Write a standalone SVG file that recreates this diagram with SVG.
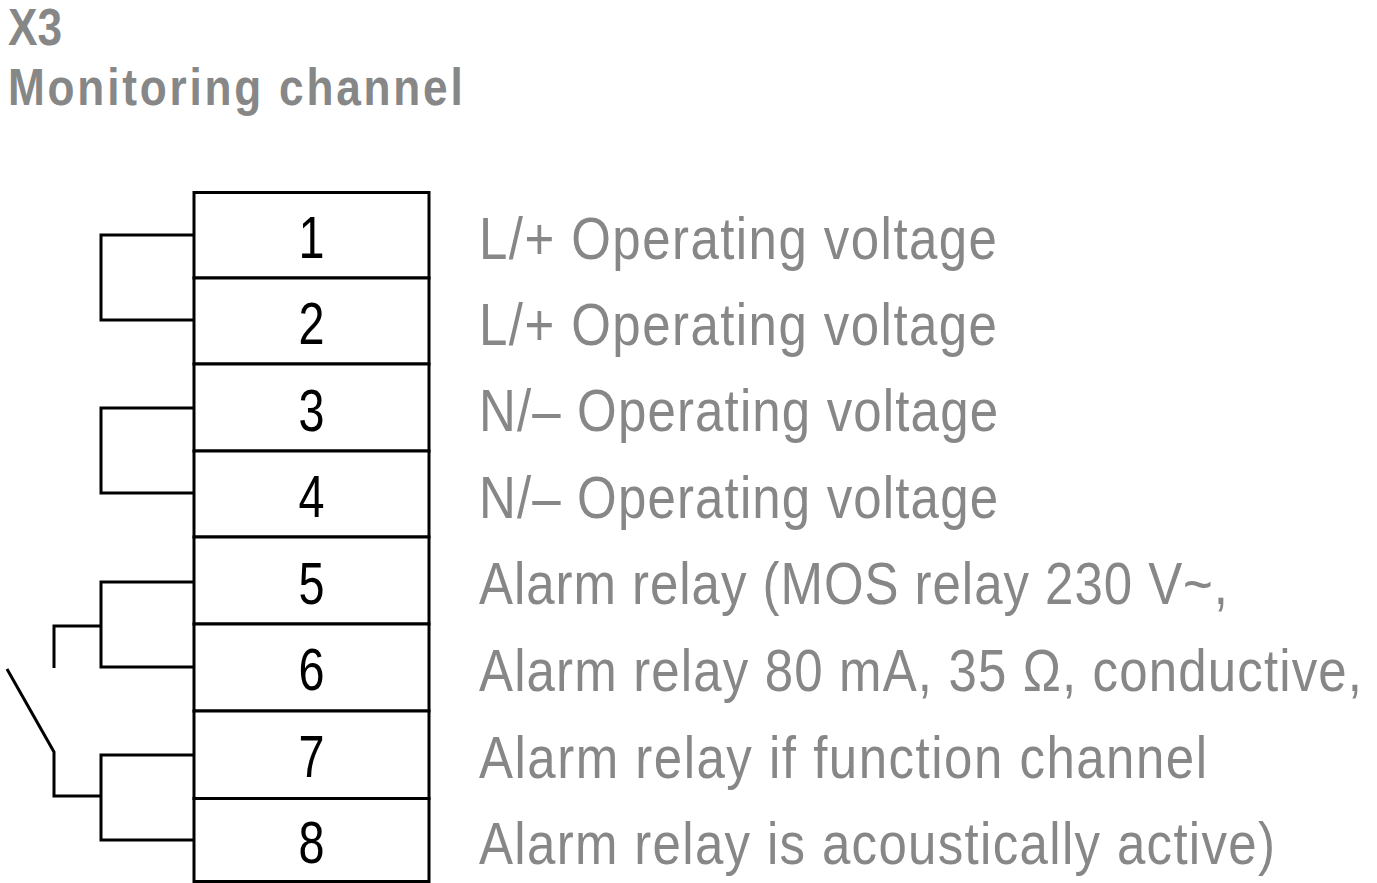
<svg xmlns="http://www.w3.org/2000/svg" width="1377" height="883" viewBox="0 0 1377 883">
<style>
.title{font-family:"Liberation Sans",Arial,sans-serif;font-weight:bold;font-size:52px;fill:#878787}
.num{font-family:"Liberation Sans",Arial,sans-serif;font-size:60px;fill:#000;text-anchor:middle}
.lbl{font-family:"Liberation Sans",Arial,sans-serif;font-size:60px;fill:#878787}
.box{fill:#fff;stroke:#000;stroke-width:3}
.wire{fill:none;stroke:#000;stroke-width:3;stroke-linejoin:miter;stroke-linecap:butt}
</style>
<rect width="1377" height="883" fill="#fff"/>
<g id="title">
<text class="title" transform="matrix(0.85 0 0 1 8 45)" x="0" y="0" textLength="63.5" lengthAdjust="spacing">X3</text>
<text class="title" transform="matrix(0.85 0 0 1 8 105)" x="0" y="0" textLength="535" lengthAdjust="spacing">Monitoring channel</text>
</g>
<g id="t1"><rect class="box" x="194" y="192.5" width="235" height="85.5"/><text class="num" x="311.5" y="258" textLength="26" lengthAdjust="spacingAndGlyphs">1</text><text class="lbl" transform="matrix(0.85 0 0 1 479 259)" x="0" y="0" textLength="609.4" lengthAdjust="spacing">L/+ Operating voltage</text></g>
<g id="t2"><rect class="box" x="194" y="278" width="235" height="86"/><text class="num" x="311.5" y="344" textLength="26" lengthAdjust="spacingAndGlyphs">2</text><text class="lbl" transform="matrix(0.85 0 0 1 479 345)" x="0" y="0" textLength="609.4" lengthAdjust="spacing">L/+ Operating voltage</text></g>
<g id="t3"><rect class="box" x="194" y="364" width="235" height="87"/><text class="num" x="311.5" y="431" textLength="26" lengthAdjust="spacingAndGlyphs">3</text><text class="lbl" transform="matrix(0.85 0 0 1 479 431)" x="0" y="0" textLength="610.6" lengthAdjust="spacing">N/– Operating voltage</text></g>
<g id="t4"><rect class="box" x="194" y="451" width="235" height="86"/><text class="num" x="311.5" y="517" textLength="26" lengthAdjust="spacingAndGlyphs">4</text><text class="lbl" transform="matrix(0.85 0 0 1 479 518)" x="0" y="0" textLength="610.6" lengthAdjust="spacing">N/– Operating voltage</text></g>
<g id="t5"><rect class="box" x="194" y="537" width="235" height="87"/><text class="num" x="311.5" y="604" textLength="26" lengthAdjust="spacingAndGlyphs">5</text><text class="lbl" transform="matrix(0.85 0 0 1 479 604)" x="0" y="0" textLength="881.2" lengthAdjust="spacing">Alarm relay (MOS relay 230 V~,</text></g>
<g id="t6"><rect class="box" x="194" y="624" width="235" height="87"/><text class="num" x="311.5" y="690" textLength="26" lengthAdjust="spacingAndGlyphs">6</text><text class="lbl" transform="matrix(0.85 0 0 1 479 691)" x="0" y="0" textLength="1038.8" lengthAdjust="spacing">Alarm relay 80 mA, 35 Ω, conductive,</text></g>
<g id="t7"><rect class="box" x="194" y="711" width="235" height="87.5"/><text class="num" x="311.5" y="777" textLength="26" lengthAdjust="spacingAndGlyphs">7</text><text class="lbl" transform="matrix(0.85 0 0 1 479 778)" x="0" y="0" textLength="856.5" lengthAdjust="spacing">Alarm relay if function channel</text></g>
<g id="t8"><rect class="box" x="194" y="798.5" width="235" height="83"/><text class="num" x="311.5" y="863" textLength="26" lengthAdjust="spacingAndGlyphs">8</text><text class="lbl" transform="matrix(0.85 0 0 1 479 864)" x="0" y="0" textLength="936.5" lengthAdjust="spacing">Alarm relay is acoustically active)</text></g>
<g id="connectors">
<polyline class="wire" points="194,235 101,235 101,320 194,320"/>
<polyline class="wire" points="194,408 101,408 101,493 194,493"/>
<polyline class="wire" points="194,582 101,582 101,667 194,667"/>
<polyline class="wire" points="101,626 54,626 54,668"/>
<polyline class="wire" points="7,669 54,752 54,796 101,796"/>
<polyline class="wire" points="194,755 101,755 101,840 194,840"/>
</g>
</svg>
